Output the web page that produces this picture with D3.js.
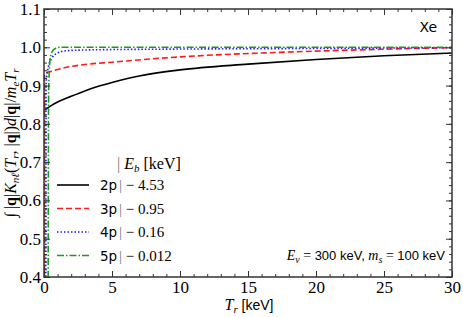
<!DOCTYPE html>
<html>
<head>
<meta charset="utf-8">
<script src="https://cdn.jsdelivr.net/npm/d3@7"></script>
<style>
	body { margin: 0; background: #fff; }
	svg text { fill: #000; }
	.tick-label { font-family: "Liberation Serif", serif; font-size: 17px; }
	.sans { font-family: "DejaVu Sans", sans-serif; }
	.lsans { font-family: "Liberation Sans", sans-serif; }
	.serif { font-family: "Liberation Serif", serif; }
</style>
</head>
<body>
<svg id="chart" width="463" height="317"></svg>
<script>
// curve data, Tr in keV
const t2p = [0.02, 0.5, 1, 2, 3, 4, 5, 7, 10, 15, 20, 25, 30];
const v2p = [0.836, 0.847, 0.857, 0.872, 0.886, 0.898, 0.908, 0.925, 0.941, 0.956, 0.968, 0.978, 0.985];

const t3p = [0.03, 0.04, 0.1, 0.5, 1, 2, 3, 5, 8, 12, 16, 20, 25, 30];
const v3p = [0.3, 0.925, 0.932, 0.937, 0.942, 0.950, 0.955, 0.961, 0.970, 0.979, 0.985, 0.990, 0.995, 0.999];

const t4p = [0.13, 0.15, 0.2, 0.32, 0.57, 0.93, 1.67, 3, 8.5, 20, 30];
const v4p = [0.3, 0.9, 0.923, 0.949, 0.971, 0.984, 0.991, 0.993, 0.995, 0.997, 0.999];

const t5p = [0.3, 0.34, 0.38, 0.44, 0.55, 0.68, 0.9, 1.2, 30];
const v5p = [0.3, 0.88, 0.93, 0.967, 0.984, 0.993, 0.998, 1.0, 1.0];

const shells = ["2p", "3p", "4p", "5p"];
const bindings = ["\u2212 4.53", "\u2212 0.95", "\u2212 0.16", "\u2212 0.012"];
const xTicks = [0, 5, 10, 15, 20, 25, 30];
const yTicks = [0.4, 0.5, 0.6, 0.7, 0.8, 0.9, 1.0, 1.1];

const series = [
	{ t: t2p, v: v2p, color: "#000000", dash: null },
	{ t: t3p, v: v3p, color: "#ff1a1a", dash: "6,3" },
	{ t: t4p, v: v4p, color: "#1a1aff", dash: "1.5,2" },
	{ t: t5p, v: v5p, color: "#1a991a", dash: "7,2,1.5,2" }
];

let svg = d3.select("#chart"),
	MARGINS = { top: 9, right: 11, bottom: 40, left: 44 },
	WIDTH = 463,
	HEIGHT = 317,
	x = d3.scaleLinear().domain([0, 30]).range([MARGINS.left, WIDTH - MARGINS.right]),
	y = d3.scaleLinear().domain([0.4, 1.1]).range([HEIGHT - MARGINS.bottom, MARGINS.top]);

svg.append("clipPath").attr("id", "clip")
	.append("rect")
	.attr("x", x(0)).attr("y", y(1.1))
	.attr("width", x(30) - x(0)).attr("height", y(0.4) - y(1.1));

let lineGen = d3.line()
	.x(function (d) { return x(d[0]); })
	.y(function (d) { return y(d[1]); })
	.curve(d3.curveMonotoneX);

let plot = svg.append("g").attr("clip-path", "url(#clip)");
series.forEach(function (s) {
	plot.append("path")
		.attr("d", lineGen(d3.zip(s.t, s.v)))
		.attr("fill", "none")
		.attr("stroke", s.color)
		.attr("stroke-width", 1.6)
		.attr("stroke-dasharray", s.dash);
});

// ticks pointing inward on all four sides
function drawAxis(axis, transform) {
	let g = svg.append("g").attr("transform", transform).call(axis);
	g.select(".domain").remove();
	g.selectAll("line").attr("stroke", "#333").attr("stroke-width", 1);
	return g;
}

let xMinor = d3.range(0, 31, 1);
let yMinor = d3.range(40, 111, 2).map(function (d) { return d / 100; });

drawAxis(d3.axisBottom(x).tickValues(xMinor).tickSize(-3).tickFormat(""), "translate(0," + y(0.4) + ")");
drawAxis(d3.axisTop(x).tickValues(xMinor).tickSize(-3).tickFormat(""), "translate(0," + y(1.1) + ")");
drawAxis(d3.axisLeft(y).tickValues(yMinor).tickSize(-3).tickFormat(""), "translate(" + x(0) + ",0)");
drawAxis(d3.axisRight(y).tickValues(yMinor).tickSize(-3).tickFormat(""), "translate(" + x(30) + ",0)");

let xb = drawAxis(d3.axisBottom(x).tickValues(xTicks).tickSize(-6).tickPadding(4).tickFormat(d3.format("d")), "translate(0," + y(0.4) + ")");
drawAxis(d3.axisTop(x).tickValues(xTicks).tickSize(-6).tickFormat(""), "translate(0," + y(1.1) + ")");
let yl = drawAxis(d3.axisLeft(y).tickValues(yTicks).tickSize(-6).tickPadding(3).tickFormat(d3.format(".1f")), "translate(" + x(0) + ",0)");
drawAxis(d3.axisRight(y).tickValues(yTicks).tickSize(-6).tickFormat(""), "translate(" + x(30) + ",0)");

xb.selectAll("text").attr("class", "tick-label").attr("fill", "#000");
yl.selectAll("text").attr("class", "tick-label").attr("fill", "#000");

svg.append("rect")
	.attr("x", x(0)).attr("y", y(1.1))
	.attr("width", x(30) - x(0)).attr("height", y(0.4) - y(1.1))
	.attr("fill", "none").attr("stroke", "#333").attr("stroke-width", 1.5);

// x label
let xl = svg.append("text").attr("x", 249).attr("y", 310).attr("text-anchor", "middle").attr("font-size", 16);
xl.append("tspan").attr("class", "serif").attr("font-style", "italic").text("T");
xl.append("tspan").attr("class", "serif").attr("font-style", "italic").attr("font-size", 11).attr("dy", 3).text("r");
xl.append("tspan").attr("class", "lsans").attr("font-size", 14).attr("dy", -3).text(" [keV]");

// y label
let ylab = svg.append("text").attr("class", "serif").attr("font-size", 16)
	.attr("transform", "translate(16,143) rotate(-90)").attr("text-anchor", "middle");
ylab.append("tspan").text("\u222B |");
ylab.append("tspan").attr("font-weight", "bold").text("q");
ylab.append("tspan").text("|");
ylab.append("tspan").attr("font-style", "italic").text("K");
ylab.append("tspan").attr("font-style", "italic").attr("font-size", 11).attr("dy", 3).text("n\u2113");
ylab.append("tspan").attr("dy", -3).text("(");
ylab.append("tspan").attr("font-style", "italic").text("T");
ylab.append("tspan").attr("font-style", "italic").attr("font-size", 11).attr("dy", 3).text("r");
ylab.append("tspan").attr("dy", -3).text(", |");
ylab.append("tspan").attr("font-weight", "bold").text("q");
ylab.append("tspan").text("|)");
ylab.append("tspan").attr("font-style", "italic").text("d");
ylab.append("tspan").text("|");
ylab.append("tspan").attr("font-weight", "bold").text("q");
ylab.append("tspan").text("|/");
ylab.append("tspan").attr("font-style", "italic").text("m");
ylab.append("tspan").attr("font-style", "italic").attr("font-size", 11).attr("dy", 3).text("e");
ylab.append("tspan").attr("font-style", "italic").attr("dy", -3).text("T");
ylab.append("tspan").attr("font-style", "italic").attr("font-size", 11).attr("dy", 3).text("r");

// element tag
svg.append("text").attr("class", "sans").attr("font-size", 14)
	.attr("x", 437).attr("y", 32).attr("text-anchor", "end").text("Xe");

// parameters
let par = svg.append("text").attr("font-size", 14).attr("x", 445).attr("y", 260).attr("text-anchor", "end");
par.append("tspan").attr("class", "serif").attr("font-style", "italic").text("E");
par.append("tspan").attr("class", "serif").attr("font-style", "italic").attr("font-size", 10).attr("dy", 3).text("\u03BD");
par.append("tspan").attr("class", "serif").attr("dy", -3).text(" = ");
par.append("tspan").attr("class", "lsans").attr("font-size", 13).text("300 keV, ");
par.append("tspan").attr("class", "serif").attr("font-style", "italic").text("m");
par.append("tspan").attr("class", "serif").attr("font-style", "italic").attr("font-size", 10).attr("dy", 3).text("s");
par.append("tspan").attr("class", "serif").attr("dy", -3).text(" = ");
par.append("tspan").attr("class", "lsans").attr("font-size", 13).text("100 keV");

// legend
let head = svg.append("text").attr("class", "serif").attr("font-size", 16).attr("x", 117).attr("y", 169);
head.append("tspan").attr("fill", "#777").text("|  ");
head.append("tspan").attr("font-style", "italic").text("E");
head.append("tspan").attr("font-style", "italic").attr("font-size", 11).attr("dy", 3).text("b");
head.append("tspan").attr("dy", -3).text(" [keV]");

let legend = svg.append("g");
shells.forEach(function (name, i) {
	let ly = 185 + i * 23.5;
	legend.append("line")
		.attr("x1", 57).attr("x2", 89).attr("y1", ly).attr("y2", ly)
		.attr("stroke", series[i].color).attr("stroke-width", 1.6)
		.attr("stroke-dasharray", series[i].dash);
	legend.append("text").attr("class", "sans").attr("font-size", 13.5)
		.attr("x", 100).attr("y", ly + 5).text(name);
	let val = legend.append("text").attr("class", "serif").attr("font-size", 15)
		.attr("x", 119).attr("y", ly + 5);
	val.append("tspan").attr("fill", "#777").text("|  ");
	val.append("tspan").text(bindings[i]);
});
</script>
</body>
</html>
